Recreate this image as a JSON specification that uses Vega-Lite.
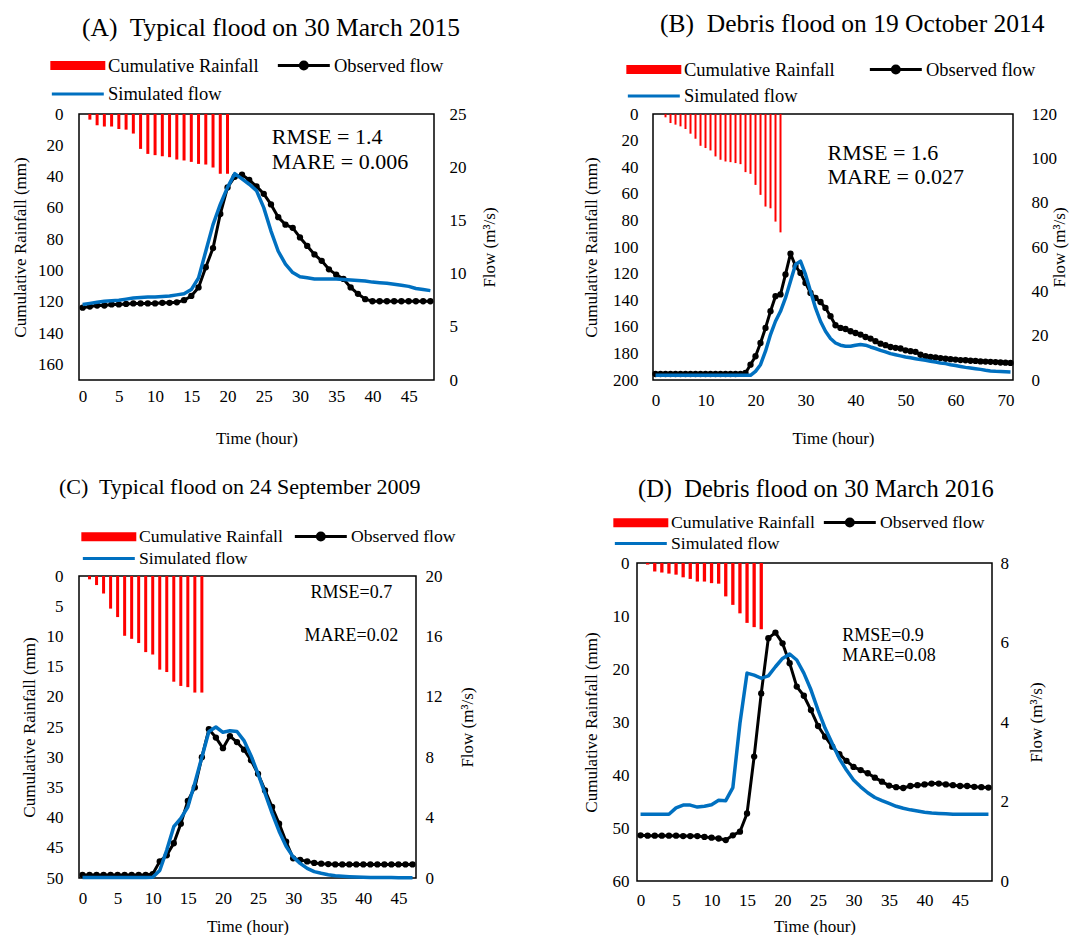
{
  "$schema": "https://vega.github.io/schema/vega-lite/v6.json",
  "background": "white",
  "padding": {"left": 10, "top": 10, "right": 0, "bottom": 0},
  "config": {
    "font": "Liberation Serif",
    "view": {"stroke": "black", "strokeWidth": 1.5},
    "axis": {"grid": false, "ticks": false, "domain": false, "labelOverlap": false, "labelFlush": false, "labelFont": "Liberation Serif", "labelFontSize": 17, "labelColor": "black", "titleFont": "Liberation Serif", "titleFontSize": 17, "titleFontWeight": "normal", "titleColor": "black"},
    "legend": {"labelFont": "Liberation Serif", "labelColor": "black", "labelLimit": 0, "symbolSize": 300, "symbolStrokeWidth": 3, "labelOffset": 37},
    "title": {"font": "Liberation Serif", "fontWeight": "normal", "color": "black", "anchor": "start", "frame": "group"}
  },
  "datasets": {
    "A_rain": [{"h":1,"rain":3.6},{"h":2,"rain":7.2},{"h":3,"rain":8},{"h":4,"rain":8},{"h":5,"rain":9.6},{"h":6,"rain":10},{"h":7,"rain":12.5},{"h":8,"rain":22.3},{"h":9,"rain":25.5},{"h":10,"rain":26.3},{"h":11,"rain":27},{"h":12,"rain":27.6},{"h":13,"rain":29.1},{"h":14,"rain":29.7},{"h":15,"rain":30.6},{"h":16,"rain":31.9},{"h":17,"rain":32.3},{"h":18,"rain":34.2},{"h":19,"rain":38.2},{"h":20,"rain":38.2}],
    "A_flow": [{"h":0,"obs":6.8,"sim":7.1},{"h":1,"obs":6.9,"sim":7.2},{"h":2,"obs":7.0,"sim":7.3},{"h":3,"obs":7.0,"sim":7.4},{"h":4,"obs":7.1,"sim":7.45},{"h":5,"obs":7.1,"sim":7.5},{"h":6,"obs":7.15,"sim":7.6},{"h":7,"obs":7.2,"sim":7.7},{"h":8,"obs":7.2,"sim":7.75},{"h":9,"obs":7.2,"sim":7.8},{"h":10,"obs":7.2,"sim":7.8},{"h":11,"obs":7.25,"sim":7.85},{"h":12,"obs":7.25,"sim":7.9},{"h":13,"obs":7.3,"sim":8.0},{"h":14,"obs":7.5,"sim":8.1},{"h":15,"obs":7.9,"sim":8.5},{"h":16,"obs":8.7,"sim":9.6},{"h":17,"obs":10.6,"sim":12.1},{"h":18,"obs":12.4,"sim":14.6},{"h":19,"obs":15.6,"sim":16.5},{"h":20,"obs":18.1,"sim":18.1},{"h":21,"obs":19.1,"sim":19.4},{"h":22,"obs":19.3,"sim":18.9},{"h":23,"obs":18.8,"sim":18.4},{"h":24,"obs":18.2,"sim":17.8},{"h":25,"obs":17.5,"sim":16.2},{"h":26,"obs":16.5,"sim":14.0},{"h":27,"obs":15.3,"sim":12.1},{"h":28,"obs":14.6,"sim":10.9},{"h":29,"obs":14.3,"sim":10.1},{"h":30,"obs":13.4,"sim":9.7},{"h":31,"obs":12.6,"sim":9.6},{"h":32,"obs":11.8,"sim":9.5},{"h":33,"obs":11.2,"sim":9.5},{"h":34,"obs":10.4,"sim":9.5},{"h":35,"obs":9.9,"sim":9.5},{"h":36,"obs":9.5,"sim":9.45},{"h":37,"obs":8.7,"sim":9.4},{"h":38,"obs":8.1,"sim":9.35},{"h":39,"obs":7.6,"sim":9.3},{"h":40,"obs":7.4,"sim":9.2},{"h":41,"obs":7.4,"sim":9.15},{"h":42,"obs":7.4,"sim":9.1},{"h":43,"obs":7.4,"sim":9.0},{"h":44,"obs":7.4,"sim":8.9},{"h":45,"obs":7.4,"sim":8.8},{"h":46,"obs":7.4,"sim":8.6},{"h":47,"obs":7.4,"sim":8.5},{"h":48,"obs":7.4,"sim":8.4}],
    "B_rain": [{"h":2,"rain":2.5},{"h":3,"rain":6.8},{"h":4,"rain":8},{"h":5,"rain":9.3},{"h":6,"rain":11.3},{"h":7,"rain":14.8},{"h":8,"rain":18.6},{"h":9,"rain":23.9},{"h":10,"rain":25.6},{"h":11,"rain":27.4},{"h":12,"rain":31.9},{"h":13,"rain":34.4},{"h":14,"rain":35.7},{"h":15,"rain":36.2},{"h":16,"rain":36.9},{"h":17,"rain":37.7},{"h":18,"rain":43.7},{"h":19,"rain":45},{"h":20,"rain":53.3},{"h":21,"rain":60.8},{"h":22,"rain":69.6},{"h":23,"rain":70.9},{"h":24,"rain":80.9},{"h":25,"rain":89}],
    "B_flow": [{"h":0,"obs":2.7,"sim":2.1},{"h":1,"obs":2.7,"sim":2.1},{"h":2,"obs":2.7,"sim":2.1},{"h":3,"obs":2.7,"sim":2.1},{"h":4,"obs":2.7,"sim":2.1},{"h":5,"obs":2.7,"sim":2.1},{"h":6,"obs":2.7,"sim":2.1},{"h":7,"obs":2.7,"sim":2.1},{"h":8,"obs":2.7,"sim":2.1},{"h":9,"obs":2.7,"sim":2.1},{"h":10,"obs":2.7,"sim":2.1},{"h":11,"obs":2.7,"sim":2.1},{"h":12,"obs":2.7,"sim":2.1},{"h":13,"obs":2.7,"sim":2.1},{"h":14,"obs":2.7,"sim":2.1},{"h":15,"obs":2.7,"sim":2.1},{"h":16,"obs":2.7,"sim":2.1},{"h":17,"obs":2.8,"sim":2.1},{"h":18,"obs":3.2,"sim":2.1},{"h":19,"obs":6.9,"sim":2.1},{"h":20,"obs":10.7,"sim":3.9},{"h":21,"obs":16.7,"sim":6.9},{"h":22,"obs":23.5,"sim":13},{"h":23,"obs":31,"sim":20.5},{"h":24,"obs":37.8,"sim":26.5},{"h":25,"obs":38.6,"sim":31},{"h":26,"obs":47.6,"sim":37},{"h":27,"obs":57,"sim":44.6},{"h":28,"obs":51.4,"sim":52.1},{"h":29,"obs":48.3,"sim":53.6},{"h":30,"obs":43.8,"sim":47.6},{"h":31,"obs":39.3,"sim":40},{"h":32,"obs":37,"sim":32.5},{"h":33,"obs":35.2,"sim":26.5},{"h":34,"obs":32.5,"sim":22},{"h":35,"obs":28.8,"sim":18.7},{"h":36,"obs":24.7,"sim":16.7},{"h":37,"obs":23.5,"sim":15.7},{"h":38,"obs":23,"sim":15.2},{"h":39,"obs":22,"sim":15.2},{"h":40,"obs":21.2,"sim":15.7},{"h":41,"obs":20.5,"sim":16},{"h":42,"obs":19.4,"sim":15.7},{"h":43,"obs":18.7,"sim":14.9},{"h":44,"obs":17.5,"sim":14.2},{"h":45,"obs":16.4,"sim":13.4},{"h":46,"obs":15.7,"sim":12.7},{"h":47,"obs":14.9,"sim":11.9},{"h":48,"obs":14.5,"sim":11.4},{"h":49,"obs":14.2,"sim":10.9},{"h":50,"obs":13.4,"sim":10.4},{"h":51,"obs":13,"sim":10},{"h":52,"obs":12.7,"sim":9.6},{"h":53,"obs":11.4,"sim":9.2},{"h":54,"obs":10.7,"sim":8.9},{"h":55,"obs":10.4,"sim":8.5},{"h":56,"obs":10.2,"sim":8.1},{"h":57,"obs":9.9,"sim":7.7},{"h":58,"obs":9.6,"sim":7.4},{"h":59,"obs":9.4,"sim":6.9},{"h":60,"obs":9.2,"sim":6.5},{"h":61,"obs":9.0,"sim":6.1},{"h":62,"obs":8.9,"sim":5.7},{"h":63,"obs":8.7,"sim":5.4},{"h":64,"obs":8.6,"sim":5.1},{"h":65,"obs":8.4,"sim":4.8},{"h":66,"obs":8.3,"sim":4.4},{"h":67,"obs":8.2,"sim":4.1},{"h":68,"obs":8.1,"sim":3.9},{"h":69,"obs":7.9,"sim":3.8},{"h":70,"obs":7.8,"sim":3.7},{"h":71,"obs":7.7,"sim":3.6}],
    "C_rain": [{"h":1,"rain":0.55},{"h":2,"rain":1.5},{"h":3,"rain":2.9},{"h":4,"rain":5.4},{"h":5,"rain":6.8},{"h":6,"rain":9.9},{"h":7,"rain":10.4},{"h":8,"rain":11.1},{"h":9,"rain":12.6},{"h":10,"rain":13},{"h":11,"rain":15.5},{"h":12,"rain":15.9},{"h":13,"rain":17.5},{"h":14,"rain":18.2},{"h":15,"rain":18.4},{"h":16,"rain":19.3},{"h":17,"rain":19.3}],
    "C_flow": [{"h":0,"obs":0.2,"sim":0.03},{"h":1,"obs":0.2,"sim":0.03},{"h":2,"obs":0.2,"sim":0.03},{"h":3,"obs":0.2,"sim":0.03},{"h":4,"obs":0.2,"sim":0.03},{"h":5,"obs":0.2,"sim":0.03},{"h":6,"obs":0.2,"sim":0.03},{"h":7,"obs":0.2,"sim":0.03},{"h":8,"obs":0.2,"sim":0.03},{"h":9,"obs":0.2,"sim":0.03},{"h":10,"obs":0.26,"sim":0.05},{"h":11,"obs":1.1,"sim":0.5},{"h":12,"obs":1.5,"sim":1.85},{"h":13,"obs":2.3,"sim":3.4},{"h":14,"obs":3.6,"sim":3.95},{"h":15,"obs":5.1,"sim":4.7},{"h":16,"obs":6.0,"sim":6.3},{"h":17,"obs":8.0,"sim":8.0},{"h":18,"obs":9.85,"sim":9.7},{"h":19,"obs":9.3,"sim":10.0},{"h":20,"obs":8.6,"sim":9.65},{"h":21,"obs":9.4,"sim":9.75},{"h":22,"obs":9.0,"sim":9.7},{"h":23,"obs":8.5,"sim":9.1},{"h":24,"obs":7.8,"sim":8.1},{"h":25,"obs":6.9,"sim":6.9},{"h":26,"obs":5.8,"sim":5.6},{"h":27,"obs":4.7,"sim":4.3},{"h":28,"obs":3.6,"sim":3.1},{"h":29,"obs":2.4,"sim":2.1},{"h":30,"obs":1.3,"sim":1.4},{"h":31,"obs":1.2,"sim":0.97},{"h":32,"obs":1.1,"sim":0.64},{"h":33,"obs":1.0,"sim":0.42},{"h":34,"obs":0.95,"sim":0.31},{"h":35,"obs":0.92,"sim":0.22},{"h":36,"obs":0.9,"sim":0.15},{"h":37,"obs":0.9,"sim":0.12},{"h":38,"obs":0.9,"sim":0.09},{"h":39,"obs":0.9,"sim":0.07},{"h":40,"obs":0.9,"sim":0.05},{"h":41,"obs":0.9,"sim":0.04},{"h":42,"obs":0.9,"sim":0.04},{"h":43,"obs":0.9,"sim":0.03},{"h":44,"obs":0.9,"sim":0.03},{"h":45,"obs":0.9,"sim":0.02},{"h":46,"obs":0.9,"sim":0.02},{"h":47,"obs":0.9,"sim":0.02}],
    "D_rain": [{"h":1,"rain":0.3},{"h":2,"rain":1.6},{"h":3,"rain":1.8},{"h":4,"rain":2.0},{"h":5,"rain":2.2},{"h":6,"rain":2.7},{"h":7,"rain":3.0},{"h":8,"rain":3.5},{"h":9,"rain":3.5},{"h":10,"rain":3.8},{"h":11,"rain":3.9},{"h":12,"rain":6.3},{"h":13,"rain":7.9},{"h":14,"rain":9.5},{"h":15,"rain":11.3},{"h":16,"rain":12.1},{"h":17,"rain":12.5}],
    "D_flow": [{"h":0,"obs":1.15,"sim":1.68},{"h":1,"obs":1.14,"sim":1.68},{"h":2,"obs":1.14,"sim":1.68},{"h":3,"obs":1.14,"sim":1.68},{"h":4,"obs":1.14,"sim":1.68},{"h":5,"obs":1.14,"sim":1.84},{"h":6,"obs":1.13,"sim":1.91},{"h":7,"obs":1.13,"sim":1.91},{"h":8,"obs":1.13,"sim":1.86},{"h":9,"obs":1.11,"sim":1.88},{"h":10,"obs":1.09,"sim":1.92},{"h":11,"obs":1.07,"sim":2.03},{"h":12,"obs":1.03,"sim":2.02},{"h":13,"obs":1.15,"sim":2.35},{"h":14,"obs":1.24,"sim":3.97},{"h":15,"obs":1.7,"sim":5.23},{"h":16,"obs":3.13,"sim":5.18},{"h":17,"obs":4.72,"sim":5.1},{"h":18,"obs":6.11,"sim":5.16},{"h":19,"obs":6.25,"sim":5.39},{"h":20,"obs":5.98,"sim":5.6},{"h":21,"obs":5.48,"sim":5.71},{"h":22,"obs":4.89,"sim":5.56},{"h":23,"obs":4.66,"sim":5.23},{"h":24,"obs":4.3,"sim":4.81},{"h":25,"obs":3.9,"sim":4.3},{"h":26,"obs":3.63,"sim":3.84},{"h":27,"obs":3.38,"sim":3.46},{"h":28,"obs":3.19,"sim":3.08},{"h":29,"obs":3.02,"sim":2.79},{"h":30,"obs":2.87,"sim":2.54},{"h":31,"obs":2.79,"sim":2.37},{"h":32,"obs":2.71,"sim":2.22},{"h":33,"obs":2.6,"sim":2.1},{"h":34,"obs":2.5,"sim":2.02},{"h":35,"obs":2.4,"sim":1.95},{"h":36,"obs":2.36,"sim":1.88},{"h":37,"obs":2.34,"sim":1.83},{"h":38,"obs":2.39,"sim":1.79},{"h":39,"obs":2.41,"sim":1.76},{"h":40,"obs":2.43,"sim":1.73},{"h":41,"obs":2.45,"sim":1.71},{"h":42,"obs":2.45,"sim":1.7},{"h":43,"obs":2.43,"sim":1.69},{"h":44,"obs":2.41,"sim":1.68},{"h":45,"obs":2.39,"sim":1.68},{"h":46,"obs":2.39,"sim":1.68},{"h":47,"obs":2.37,"sim":1.68},{"h":48,"obs":2.36,"sim":1.68},{"h":49,"obs":2.35,"sim":1.68}]
  },
  "concat": [
    {
      "title": {"text": "(A)\u00a0 Typical flood on 30 March 2015", "fontSize": 25.5, "dx": 3, "offset": 14},
      "width": 355, "height": 266,
      "layer": [
        {
          "data": {"name": "A_rain"},
          "mark": {"type": "bar", "width": 3},
          "encoding": {
            "x": {"field": "h", "type": "quantitative", "scale": {"domain": [-0.5, 48.5], "nice": false, "zero": false, "padding": 0}, "axis": {"values": [0,5,10,15,20,25,30,35,40,45], "tickCount": 50, "labelOverlap": false, "title": "Time (hour)", "labelPadding": 8, "titlePadding": 26}},
            "y": {"field": "rain", "type": "quantitative", "scale": {"domain": [0, 170], "reverse": true, "nice": false}, "axis": {"orient": "left", "values": [0,20,40,60,80,100,120,140,160], "title": "Cumulative Rainfall (mm)", "labelPadding": 16, "titlePadding": 8}},
            "color": {"datum": "Cumulative Rainfall", "scale": {"domain": ["Cumulative Rainfall", "Simulated flow", "Observed flow"], "range": ["#FF0000", "#0070C0", "#000000"]},
              "legend": {"title": null, "orient": "none", "legendX": -29, "legendY": -59, "columns": 2, "columnPadding": 12, "rowPadding": 8.5, "labelFontSize": 18.5,
                "encode": {"symbols": {"update": {
                  "shape": {"signal": "datum.value === 'Cumulative Rainfall' ? 'M-1,-0.35H5V0.35H-1Z' : datum.value === 'Observed flow' ? 'M-1,0H5M1.6,0A0.4,0.4,0,1,0,2.4,0A0.4,0.4,0,1,0,1.6,0' : 'M-1,0H5'"},
                  "fill": {"signal": "datum.value === 'Cumulative Rainfall' ? '#FF0000' : datum.value === 'Observed flow' ? '#000000' : '#0070C0'"},
                  "stroke": {"signal": "datum.value === 'Cumulative Rainfall' ? '#FF0000' : datum.value === 'Observed flow' ? '#000000' : '#0070C0'"},
                  "strokeWidth": {"value": 3}, "opacity": {"value": 1}}}}}}
          }
        },
        {
          "data": {"name": "A_flow"},
          "layer": [
            {
              "mark": {"type": "line", "strokeWidth": 3, "strokeJoin": "round", "point": {"filled": true, "size": 40}},
              "encoding": {
                "x": {"field": "h", "type": "quantitative", "axis": {"values": [0,5,10,15,20,25,30,35,40,45], "tickCount": 50, "labelOverlap": false, "title": "Time (hour)", "labelPadding": 8, "titlePadding": 26}},
                "y": {"field": "obs", "type": "quantitative", "scale": {"domain": [0, 25], "nice": false}, "axis": {"orient": "right", "values": [0,5,10,15,20,25], "title": "Flow (m³/s)", "titleAngle": 270, "labelPadding": 15, "titlePadding": 32}},
                "color": {"datum": "Observed flow"}
              }
            },
            {
              "mark": {"type": "line", "strokeWidth": 3.5, "strokeJoin": "round"},
              "encoding": {
                "x": {"field": "h", "type": "quantitative", "axis": {"values": [0,5,10,15,20,25,30,35,40,45], "tickCount": 50, "labelOverlap": false, "title": "Time (hour)", "labelPadding": 8, "titlePadding": 26}},
                "y": {"field": "sim", "type": "quantitative", "axis": {"orient": "right", "values": [0,5,10,15,20,25], "title": "Flow (m³/s)", "titleAngle": 270, "labelPadding": 15, "titlePadding": 32}},
                "color": {"datum": "Simulated flow"}
              }
            },
            {
              "data": {"values": [{}]},
              "mark": {"type": "text", "text": ["RMSE = 1.4", "MARE = 0.006"], "align": "left", "baseline": "alphabetic", "fontSize": 22, "lineHeight": 25, "font": "Liberation Serif", "color": "black"},
              "encoding": {
                "x": {"datum": 26.1, "type": "quantitative"},
                "y": {"datum": 22.2, "type": "quantitative"}
              }
            }
          ]
        }
      ],
      "resolve": {"scale": {"y": "independent"}}
    },
    {
      "title": {"text": "(B)\u00a0 Debris flood on 19 October 2014", "fontSize": 25.5, "dx": 7, "offset": 22},
      "width": 360, "height": 266,
      "layer": [
        {
          "data": {"name": "B_rain"},
          "mark": {"type": "bar", "width": 2},
          "encoding": {
            "x": {"field": "h", "type": "quantitative", "scale": {"domain": [-0.5, 71.5], "nice": false, "zero": false, "padding": 0}, "axis": {"values": [0,10,20,30,40,50,60,70], "tickCount": 50, "labelOverlap": false, "title": "Time (hour)", "labelPadding": 12, "titlePadding": 22}},
            "y": {"field": "rain", "type": "quantitative", "scale": {"domain": [0, 200], "reverse": true, "nice": false}, "axis": {"orient": "left", "values": [0,20,40,60,80,100,120,140,160,180,200], "title": "Cumulative Rainfall (mm)", "labelPadding": 15, "titlePadding": 12}},
            "color": {"datum": "Cumulative Rainfall", "scale": {"domain": ["Cumulative Rainfall", "Simulated flow", "Observed flow"], "range": ["#FF0000", "#0070C0", "#000000"]},
              "legend": {"title": null, "orient": "none", "legendX": -27, "legendY": -55, "columns": 2, "columnPadding": 28, "rowPadding": 6.5, "labelFontSize": 18.5,
                "encode": {"symbols": {"update": {
                  "shape": {"signal": "datum.value === 'Cumulative Rainfall' ? 'M-1,-0.35H5V0.35H-1Z' : datum.value === 'Observed flow' ? 'M-1,0H5M1.6,0A0.4,0.4,0,1,0,2.4,0A0.4,0.4,0,1,0,1.6,0' : 'M-1,0H5'"},
                  "fill": {"signal": "datum.value === 'Cumulative Rainfall' ? '#FF0000' : datum.value === 'Observed flow' ? '#000000' : '#0070C0'"},
                  "stroke": {"signal": "datum.value === 'Cumulative Rainfall' ? '#FF0000' : datum.value === 'Observed flow' ? '#000000' : '#0070C0'"},
                  "strokeWidth": {"value": 3}, "opacity": {"value": 1}}}}}}
          }
        },
        {
          "data": {"name": "B_flow"},
          "layer": [
            {
              "mark": {"type": "line", "strokeWidth": 3, "strokeJoin": "round", "point": {"filled": true, "size": 40}},
              "encoding": {
                "x": {"field": "h", "type": "quantitative", "axis": {"values": [0,10,20,30,40,50,60,70], "tickCount": 50, "labelOverlap": false, "title": "Time (hour)", "labelPadding": 12, "titlePadding": 22}},
                "y": {"field": "obs", "type": "quantitative", "scale": {"domain": [0, 120], "nice": false}, "axis": {"orient": "right", "values": [0,20,40,60,80,100,120], "title": "Flow (m³/s)", "titleAngle": 270, "labelPadding": 18, "titlePadding": 12}},
                "color": {"datum": "Observed flow"}
              }
            },
            {
              "mark": {"type": "line", "strokeWidth": 3.5, "strokeJoin": "round"},
              "encoding": {
                "x": {"field": "h", "type": "quantitative", "axis": {"values": [0,10,20,30,40,50,60,70], "tickCount": 50, "labelOverlap": false, "title": "Time (hour)", "labelPadding": 12, "titlePadding": 22}},
                "y": {"field": "sim", "type": "quantitative", "axis": {"orient": "right", "values": [0,20,40,60,80,100,120], "title": "Flow (m³/s)", "titleAngle": 270, "labelPadding": 18, "titlePadding": 12}},
                "color": {"datum": "Simulated flow"}
              }
            },
            {
              "data": {"values": [{}]},
              "mark": {"type": "text", "text": ["RMSE = 1.6", "MARE = 0.027"], "align": "left", "baseline": "alphabetic", "fontSize": 22, "lineHeight": 24, "font": "Liberation Serif", "color": "black"},
              "encoding": {
                "x": {"datum": 34.4, "type": "quantitative"},
                "y": {"datum": 99.2, "type": "quantitative"}
              }
            }
          ]
        }
      ],
      "resolve": {"scale": {"y": "independent"}}
    },
    {
      "title": {"text": "(C)\u00a0 Typical flood on 24 September 2009", "fontSize": 22, "dx": -20, "offset": 27},
      "width": 337, "height": 302,
      "layer": [
        {
          "data": {"name": "C_rain"},
          "mark": {"type": "bar", "width": 3},
          "encoding": {
            "x": {"field": "h", "type": "quantitative", "scale": {"domain": [-0.5, 47.5], "nice": false, "zero": false, "padding": 0}, "axis": {"values": [0,5,10,15,20,25,30,35,40,45], "tickCount": 50, "labelOverlap": false, "title": "Time (hour)", "labelPadding": 12, "titlePadding": 12}},
            "y": {"field": "rain", "type": "quantitative", "scale": {"domain": [0, 50], "reverse": true, "nice": false}, "axis": {"orient": "left", "values": [0,5,10,15,20,25,30,35,40,45,50], "title": "Cumulative Rainfall (mm)", "labelPadding": 16, "titlePadding": 8}},
            "color": {"datum": "Cumulative Rainfall", "scale": {"domain": ["Cumulative Rainfall", "Simulated flow", "Observed flow"], "range": ["#FF0000", "#0070C0", "#000000"]},
              "legend": {"title": null, "orient": "none", "legendX": 2, "legendY": -50, "columns": 2, "columnPadding": 5, "rowPadding": 2, "labelFontSize": 17.7,
                "encode": {"symbols": {"update": {
                  "shape": {"signal": "datum.value === 'Cumulative Rainfall' ? 'M-1,-0.35H5V0.35H-1Z' : datum.value === 'Observed flow' ? 'M-1,0H5M1.6,0A0.4,0.4,0,1,0,2.4,0A0.4,0.4,0,1,0,1.6,0' : 'M-1,0H5'"},
                  "fill": {"signal": "datum.value === 'Cumulative Rainfall' ? '#FF0000' : datum.value === 'Observed flow' ? '#000000' : '#0070C0'"},
                  "stroke": {"signal": "datum.value === 'Cumulative Rainfall' ? '#FF0000' : datum.value === 'Observed flow' ? '#000000' : '#0070C0'"},
                  "strokeWidth": {"value": 3}, "opacity": {"value": 1}}}}}}
          }
        },
        {
          "data": {"name": "C_flow"},
          "layer": [
            {
              "mark": {"type": "line", "strokeWidth": 3, "strokeJoin": "round", "point": {"filled": true, "size": 40}},
              "encoding": {
                "x": {"field": "h", "type": "quantitative", "axis": {"values": [0,5,10,15,20,25,30,35,40,45], "tickCount": 50, "labelOverlap": false, "title": "Time (hour)", "labelPadding": 12, "titlePadding": 12}},
                "y": {"field": "obs", "type": "quantitative", "scale": {"domain": [0, 20], "nice": false}, "axis": {"orient": "right", "values": [0,2,4,6,8,10,12,14,16,18,20], "title": "Flow (m³/s)", "titleAngle": 270, "labelPadding": 9, "titlePadding": 34}},
                "color": {"datum": "Observed flow"}
              }
            },
            {
              "mark": {"type": "line", "strokeWidth": 3.5, "strokeJoin": "round"},
              "encoding": {
                "x": {"field": "h", "type": "quantitative", "axis": {"values": [0,5,10,15,20,25,30,35,40,45], "tickCount": 50, "labelOverlap": false, "title": "Time (hour)", "labelPadding": 12, "titlePadding": 12}},
                "y": {"field": "sim", "type": "quantitative", "axis": {"orient": "right", "values": [0,2,4,6,8,10,12,14,16,18,20], "title": "Flow (m³/s)", "titleAngle": 270, "labelPadding": 9, "titlePadding": 34}},
                "color": {"datum": "Simulated flow"}
              }
            },
            {
              "data": {"values": [{}]},
              "mark": {"type": "text", "text": ["RMSE=0.7", "MARE=0.02"], "align": "center", "baseline": "alphabetic", "fontSize": 18, "lineHeight": 43, "font": "Liberation Serif", "color": "black"},
              "encoding": {
                "x": {"datum": 38.3, "type": "quantitative"},
                "y": {"datum": 18.56, "type": "quantitative"}
              }
            }
          ]
        }
      ],
      "resolve": {"scale": {"y": "independent"}}
    },
    {
      "title": {"text": "(D)\u00a0 Debris flood on 30 March 2016", "fontSize": 24.5, "dx": 1, "offset": 10},
      "width": 355, "height": 318,
      "layer": [
        {
          "data": {"name": "D_rain"},
          "mark": {"type": "bar", "width": 3.3},
          "encoding": {
            "x": {"field": "h", "type": "quantitative", "scale": {"domain": [-0.5, 49.5], "nice": false, "zero": false, "padding": 0}, "axis": {"values": [0,5,10,15,20,25,30,35,40,45], "tickCount": 50, "labelOverlap": false, "title": "Time (hour)", "labelPadding": 11, "titlePadding": 10}},
            "y": {"field": "rain", "type": "quantitative", "scale": {"domain": [0, 60], "reverse": true, "nice": false}, "axis": {"orient": "left", "values": [0,10,20,30,40,50,60], "title": "Cumulative Rainfall (mm)", "labelPadding": 8, "titlePadding": 12}},
            "color": {"datum": "Cumulative Rainfall", "scale": {"domain": ["Cumulative Rainfall", "Simulated flow", "Observed flow"], "range": ["#FF0000", "#0070C0", "#000000"]},
              "legend": {"title": null, "orient": "none", "legendX": -24, "legendY": -51, "columns": 2, "columnPadding": 2, "rowPadding": 1, "labelFontSize": 17.7,
                "encode": {"symbols": {"update": {
                  "shape": {"signal": "datum.value === 'Cumulative Rainfall' ? 'M-1,-0.35H5V0.35H-1Z' : datum.value === 'Observed flow' ? 'M-1,0H5M1.6,0A0.4,0.4,0,1,0,2.4,0A0.4,0.4,0,1,0,1.6,0' : 'M-1,0H5'"},
                  "fill": {"signal": "datum.value === 'Cumulative Rainfall' ? '#FF0000' : datum.value === 'Observed flow' ? '#000000' : '#0070C0'"},
                  "stroke": {"signal": "datum.value === 'Cumulative Rainfall' ? '#FF0000' : datum.value === 'Observed flow' ? '#000000' : '#0070C0'"},
                  "strokeWidth": {"value": 3}, "opacity": {"value": 1}}}}}}
          }
        },
        {
          "data": {"name": "D_flow"},
          "layer": [
            {
              "mark": {"type": "line", "strokeWidth": 3, "strokeJoin": "round", "point": {"filled": true, "size": 40}},
              "encoding": {
                "x": {"field": "h", "type": "quantitative", "axis": {"values": [0,5,10,15,20,25,30,35,40,45], "tickCount": 50, "labelOverlap": false, "title": "Time (hour)", "labelPadding": 11, "titlePadding": 10}},
                "y": {"field": "obs", "type": "quantitative", "scale": {"domain": [0, 8], "nice": false}, "axis": {"orient": "right", "values": [0,1,2,3,4,5,6,7,8], "title": "Flow (m³/s)", "titleAngle": 270, "labelPadding": 8, "titlePadding": 37}},
                "color": {"datum": "Observed flow"}
              }
            },
            {
              "mark": {"type": "line", "strokeWidth": 3.5, "strokeJoin": "round"},
              "encoding": {
                "x": {"field": "h", "type": "quantitative", "axis": {"values": [0,5,10,15,20,25,30,35,40,45], "tickCount": 50, "labelOverlap": false, "title": "Time (hour)", "labelPadding": 11, "titlePadding": 10}},
                "y": {"field": "sim", "type": "quantitative", "axis": {"orient": "right", "values": [0,1,2,3,4,5,6,7,8], "title": "Flow (m³/s)", "titleAngle": 270, "labelPadding": 8, "titlePadding": 37}},
                "color": {"datum": "Simulated flow"}
              }
            },
            {
              "data": {"values": [{}]},
              "mark": {"type": "text", "text": ["RMSE=0.9", "MARE=0.08"], "align": "left", "baseline": "alphabetic", "fontSize": 18, "lineHeight": 20, "font": "Liberation Serif", "color": "black"},
              "encoding": {
                "x": {"datum": 28.4, "type": "quantitative"},
                "y": {"datum": 6.04, "type": "quantitative"}
              }
            }
          ]
        }
      ],
      "resolve": {"scale": {"y": "independent"}}
    }
  ],
  "columns": 2,
  "align": "none",
  "spacing": {"row": 28, "column": 83},
  "resolve": {"scale": {"color": "independent"}, "legend": {"color": "independent"}}
}
